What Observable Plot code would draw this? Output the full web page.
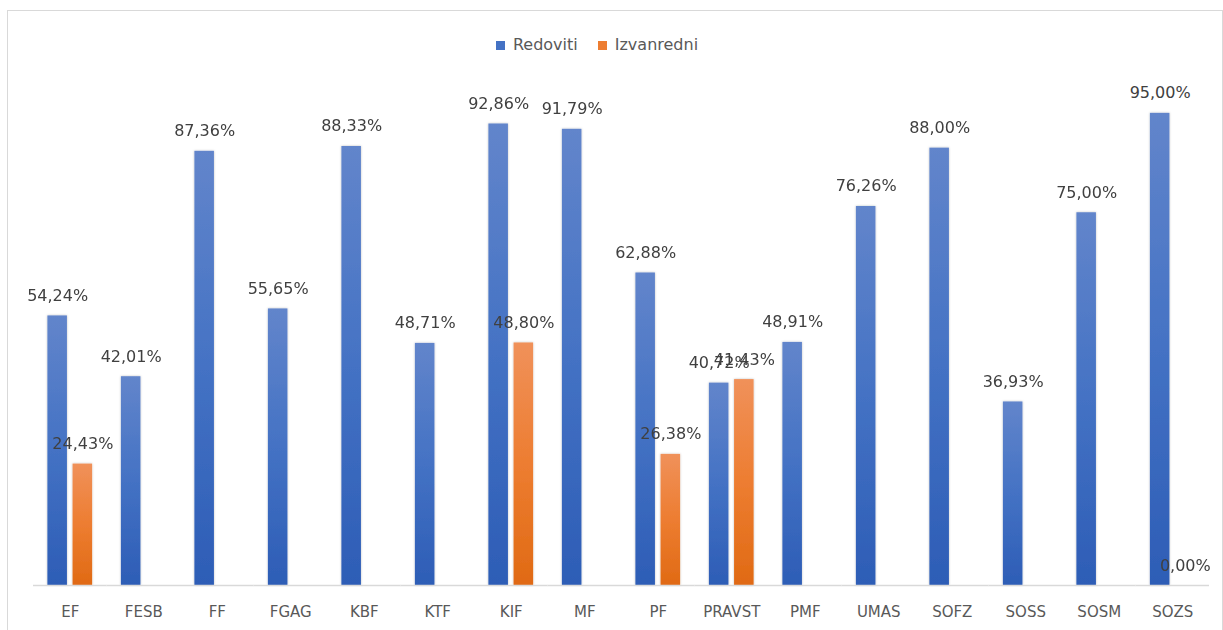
<!DOCTYPE html>
<html>
<head>
<meta charset="utf-8">
<script src="https://cdn.jsdelivr.net/npm/d3@7"></script>
<script src="https://cdn.jsdelivr.net/npm/@observablehq/plot@0.6"></script>
<style>
  html, body { margin: 0; padding: 0; background: #fff; overflow: hidden; width: 1223px; height: 630px; }
  #frame { position: absolute; left: 7px; top: 10px; right: 0; bottom: -20px; border: 1.5px solid #d9d9d9; pointer-events: none; }
  #legend { height: 70px; box-sizing: border-box; padding-top: 20px; padding-right: 29px; display: flex; justify-content: center; align-items: center; font: 16px "DejaVu Sans", sans-serif; color: #595959; line-height: 20px; }
  .item { display: flex; align-items: center; }
  .item + .item { margin-left: 20px; }
  .sw { width: 9px; height: 9px; margin-right: 8px; }
</style>
</head>
<body>
<svg width="0" height="0" style="position:absolute">
  <defs>
    <linearGradient id="gBlue" x1="0" y1="0" x2="0" y2="1">
      <stop offset="0%" stop-color="#6285CB"/>
      <stop offset="50%" stop-color="#4472C4"/>
      <stop offset="100%" stop-color="#2D5DB6"/>
    </linearGradient>
    <linearGradient id="gOrange" x1="0" y1="0" x2="0" y2="1">
      <stop offset="0%" stop-color="#F0915A"/>
      <stop offset="50%" stop-color="#ED7D31"/>
      <stop offset="100%" stop-color="#E06A14"/>
    </linearGradient>
    <filter id="shadow" x="-20%" y="-5%" width="140%" height="110%">
      <feDropShadow dx="0" dy="0" stdDeviation="1.2" flood-color="#000" flood-opacity="0.25"/>
    </filter>
  </defs>
</svg>
<div id="frame"></div>
<div id="legend">
  <div class="item"><div class="sw" style="background:#4472C4"></div>Redoviti</div>
  <div class="item"><div class="sw" style="background:#ED7D31"></div>Izvanredni</div>
</div>
<div id="chart"></div>
<script>
const categories = ["EF", "FESB", "FF", "FGAG", "KBF", "KTF", "KIF", "MF", "PF", "PRAVST", "PMF", "UMAS", "SOFZ", "SOSS", "SOSM", "SOZS"];
const series = ["Redoviti", "Izvanredni"];
const redoviti = [54.24, 42.01, 87.36, 55.65, 88.33, 48.71, 92.86, 91.79, 62.88, 40.72, 48.91, 76.26, 88.00, 36.93, 75.00, 95.00];
const izvanredni = [24.43, null, null, null, null, null, 48.80, null, 26.38, 41.43, null, null, null, null, null, 0.00];

const rows = categories.flatMap((c, i) => [
  {cat: c, series: series[0], value: redoviti[i]},
  {cat: c, series: series[1], value: izvanredni[i]}
]).filter(d => d.value != null);

const fmt = v => v.toFixed(2).replace(".", ",") + "%";

const chart = Plot.plot({
  width: 1223,
  height: 560,
  marginTop: 18,
  marginBottom: 45,
  marginLeft: 33,
  marginRight: 14,
  style: {fontFamily: "DejaVu Sans, sans-serif", fontSize: "15px", background: "transparent", color: "#595959"},
  fx: {domain: categories, padding: 0, round: false, label: null, axis: "bottom", tickSize: 0, tickPadding: 21},
  x: {domain: series, paddingInner: 0.224, paddingOuter: 0.572, round: false, axis: null},
  y: {domain: [0, 100], axis: null},
  marks: [
    Plot.barY(rows.filter(d => d.series === "Redoviti"), {fx: "cat", x: "series", y: "value", fill: "url(#gBlue)"}),
    Plot.barY(rows.filter(d => d.series === "Izvanredni"), {fx: "cat", x: "series", y: "value", fill: "url(#gOrange)"}),
    Plot.ruleY([0], {stroke: "#d9d9d9", strokeWidth: 1.5}),
    Plot.text(rows, {fx: "cat", x: "series", y: "value", text: d => fmt(d.value), dy: -15, lineAnchor: "bottom", fill: "#404040", fontSize: 16})
  ]
});
d3.select(chart).selectAll('g[aria-label="bar"]').attr("filter", "url(#shadow)");
document.getElementById("chart").appendChild(chart);
</script>
</body>
</html>
